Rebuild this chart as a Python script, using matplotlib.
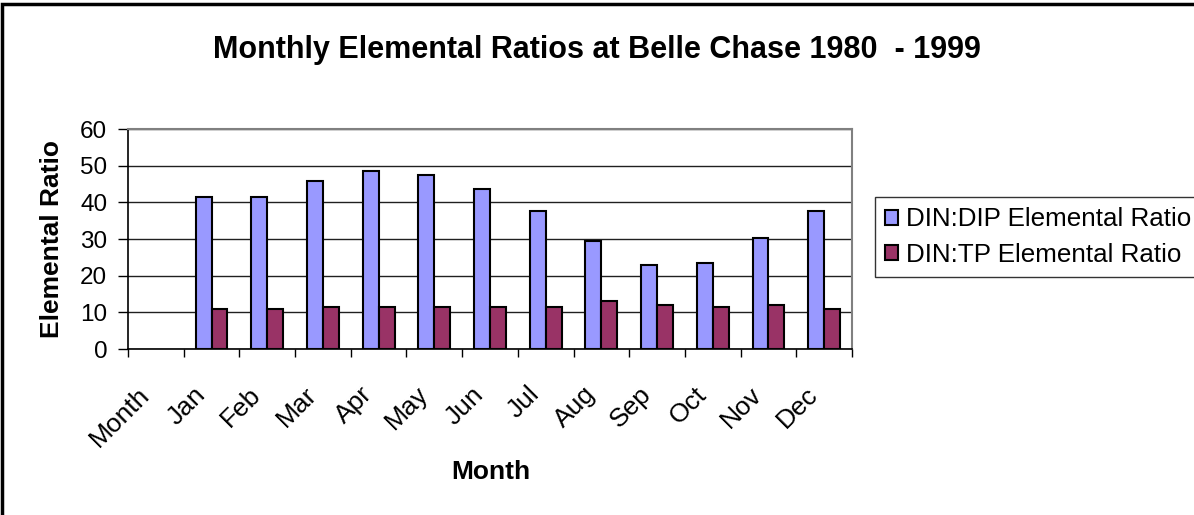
import matplotlib

matplotlib.use("Agg")
import matplotlib.pyplot as plt
import numpy as np
from matplotlib.patches import Rectangle

plt.rcParams["font.family"] = ["Liberation Sans", "DejaVu Sans"]

months = ["Month", "Jan", "Feb", "Mar", "Apr", "May", "Jun",
          "Jul", "Aug", "Sep", "Oct", "Nov", "Dec"]
din_dip = [np.nan, 41.5, 41.5, 45.8, 48.6, 47.5, 43.6,
           37.7, 29.5, 23.0, 23.5, 30.2, 37.7]
din_tp = [np.nan, 10.9, 10.9, 11.5, 11.5, 11.5, 11.5,
          11.5, 13.2, 12.1, 11.5, 12.1, 11.0]

W, H = 1194, 515
fig = plt.figure(figsize=(W / 100, H / 100), dpi=100)
ax = fig.add_axes([128 / W, 1 - 349 / H, (852 - 128) / W, (349 - 129) / H])

x = np.arange(len(months))
bw = 1 / 3.5
ax.bar(x - bw / 2, din_dip, bw, color="#9999FF", edgecolor="black", linewidth=1.5,
       label="DIN:DIP Elemental Ratio", zorder=3)
ax.bar(x + bw / 2, din_tp, bw, color="#993366", edgecolor="black", linewidth=1.5,
       label="DIN:TP Elemental Ratio", zorder=3)

ax.set_xlim(-0.5, len(months) - 0.5)
ax.set_ylim(0, 60)
ax.set_yticks(range(0, 61, 10))
ax.yaxis.grid(True, color="#202020", linewidth=1, zorder=0)
ax.set_xticks(np.arange(-0.5, len(months), 1.0))
ax.set_xticklabels([])
# slanted labels sit a little left of the category centre, like the original
ax.set_xticks(x - 0.18, minor=True)
ax.set_xticklabels(months, minor=True, rotation=45, ha="right", va="center",
                   rotation_mode="anchor", fontsize=19)
ax.tick_params(axis="x", which="minor", length=0, pad=30)
ax.tick_params(axis="x", which="major", length=6, direction="out", width=1)
ax.tick_params(axis="y", length=7, direction="out", width=1, labelsize=17.5, pad=8)

for s in ["top", "right"]:
    ax.spines[s].set_color("#808080")
    ax.spines[s].set_linewidth(1.5)
for s in ["left", "bottom"]:
    ax.spines[s].set_color("black")
    ax.spines[s].set_linewidth(1.2)

fig.text(52 / W, 1 - 239 / H, "Elemental Ratio", rotation=90, ha="center", va="center",
         fontsize=19, fontweight="bold")
fig.text(491 / W, 1 - 472 / H, "Month", ha="center", va="center",
         fontsize=19, fontweight="bold")
fig.text(597 / W, 1 - 50 / H, "Monthly Elemental Ratios at Belle Chase 1980  - 1999",
         ha="center", va="center", fontsize=22, fontweight="bold")

leg = ax.legend(loc="upper left", bbox_to_anchor=(875 / W, 1 - 197 / H),
                bbox_transform=fig.transFigure, fontsize=18.7, frameon=True,
                fancybox=False, edgecolor="black", handlelength=0.5,
                handleheight=0.5, handletextpad=0.3, borderpad=0.4,
                labelspacing=0.45, borderaxespad=0)
leg.get_frame().set_linewidth(1)

fig.patches.append(Rectangle((2 / W, -0.1), 1.2, 1 - 4 / H + 0.1,
                             transform=fig.transFigure, fill=False,
                             edgecolor="black", linewidth=2.5))

fig.savefig("out.png", dpi=100)
